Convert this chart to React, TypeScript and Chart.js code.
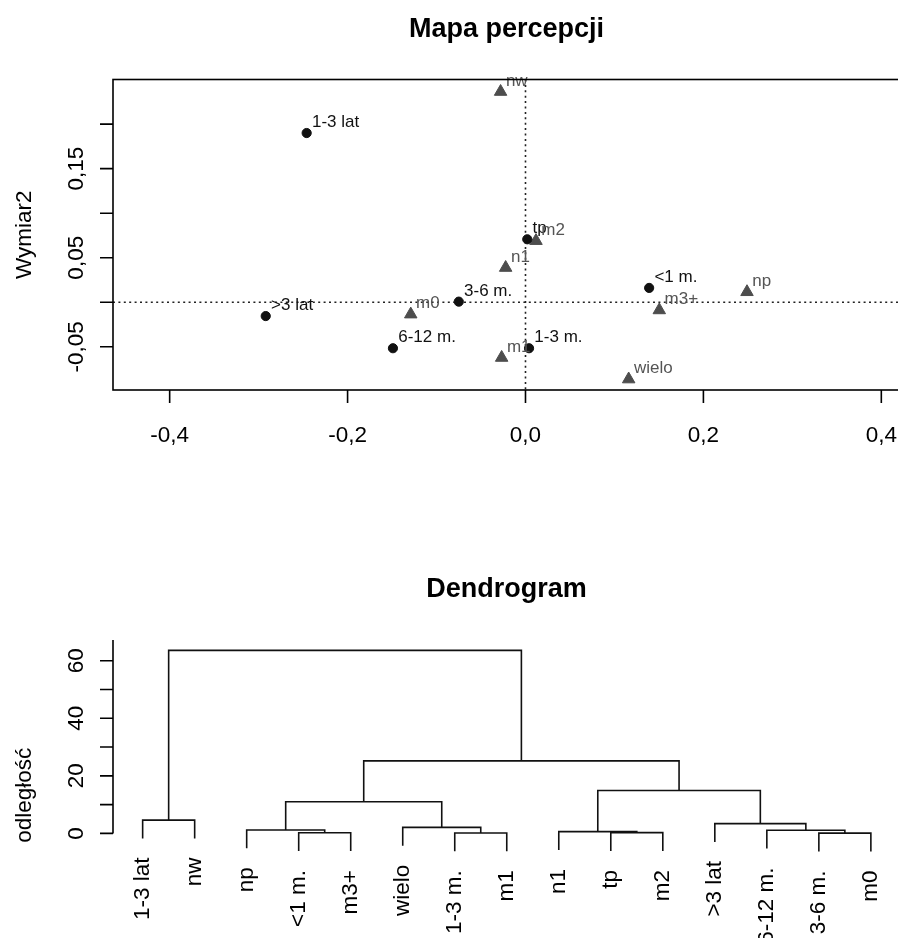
import React, { useEffect, useRef } from 'react';
import { Chart, registerables } from 'chart.js';
Chart.register(...registerables);

// ---------- Mapa percepcji (correspondence map) ----------
const rowLabels = ['1-3 lat', '>3 lat', '6-12 m.', '3-6 m.', 'tp', '1-3 m.', '<1 m.'];
const rowX = [-0.246, -0.292, -0.149, -0.075, 0.002, 0.004, 0.139];
const rowY = [0.190, -0.0155, -0.0516, 0.0007, 0.0707, -0.0516, 0.0161];

const colLabels = ['nw', 'n1', 'm2', 'm0', 'm1', 'm3+', 'np', 'wielo'];
const colX = [-0.028, -0.0223, 0.0118, -0.129, -0.0268, 0.1504, 0.249, 0.116];
const colY = [0.2364, 0.0388, 0.0690, -0.0135, -0.0622, -0.0088, 0.0116, -0.0864];

const xTicks = [-0.4, -0.2, 0, 0.2, 0.4];
const xTickLabels = ['-0,4', '-0,2', '0,0', '0,2', '0,4'];
const yTicks = [-0.05, 0, 0.05, 0.1, 0.15, 0.2];
const yTickLabels = ['-0,05', '', '0,05', '', '0,15', ''];

// ---------- Dendrogram ----------
const leafLabels = ['1-3 lat', 'nw', 'np', '<1 m.', 'm3+', 'wielo', '1-3 m.', 'm1', 'n1', 'tp', 'm2', '>3 lat', '6-12 m.', '3-6 m.', 'm0'];
// hclust-style merges: negative = leaf (1-based position), positive = earlier merge row
const mergeA = [-14, -4, -7, -10, -9, -13, -3, -6, -12, -1, 7, 5, 11, 10];
const mergeB = [-15, -5, -8, -11, 4, 1, 2, 3, 6, -2, 8, 9, 12, 13];
const mergeH = [0.1, 0.2, 0.15, 0.25, 0.6, 1.1, 1.2, 2.1, 3.4, 4.6, 11.0, 14.9, 25.2, 63.6];
const dTicks = [0, 10, 20, 30, 40, 50, 60];
const dTickLabels = ['0', '', '20', '', '40', '', '60'];

const FAM = '"Liberation Sans", Arial, Helvetica, sans-serif';
const font = (s: number, bold = false) => `${bold ? 'bold ' : ''}${s}px ${FAM}`;
const BASE = 22.5;

function ScatterChart() {
  const ref = useRef<HTMLCanvasElement>(null);
  useEffect(() => {
    const canvas = ref.current!;
    const plugin = {
      id: 'rdecorScatter',
      beforeDatasetsDraw(chart: any) {
        const { ctx, chartArea: a, scales } = chart;
        const x0 = scales.x.getPixelForValue(0);
        const y0 = scales.y.getPixelForValue(0);
        ctx.save();
        ctx.strokeStyle = '#222';
        ctx.lineWidth = 1.6;
        ctx.setLineDash([2, 3.4]);
        ctx.beginPath();
        ctx.moveTo(x0, a.top); ctx.lineTo(x0, a.bottom);
        ctx.moveTo(a.left, y0); ctx.lineTo(a.right, y0);
        ctx.stroke();
        ctx.restore();
      },
      afterDatasetsDraw(chart: any) {
        const { ctx } = chart;
        ctx.save();
        ctx.font = font(17);
        ctx.textAlign = 'left';
        ctx.textBaseline = 'alphabetic';
        const sets = [
          { labels: rowLabels, color: '#111111' },
          { labels: colLabels, color: '#555555' },
        ];
        sets.forEach((s, di) => {
          const meta = chart.getDatasetMeta(di);
          meta.data.forEach((el: any, i: number) => {
            ctx.fillStyle = s.color;
            ctx.fillText(s.labels[i], el.x + 5.3, el.y - 6);
          });
        });
        ctx.restore();
      },
      afterDraw(chart: any) {
        const { ctx, chartArea: a, scales } = chart;
        ctx.save();
        ctx.strokeStyle = '#000';
        ctx.lineWidth = 1.6;
        ctx.strokeRect(a.left, a.top, a.right - a.left, a.bottom - a.top);
        // x ticks
        ctx.beginPath();
        xTicks.forEach((v) => {
          const px = scales.x.getPixelForValue(v);
          ctx.moveTo(px, a.bottom); ctx.lineTo(px, a.bottom + 13);
        });
        yTicks.forEach((v) => {
          const py = scales.y.getPixelForValue(v);
          ctx.moveTo(a.left, py); ctx.lineTo(a.left - 13, py);
        });
        ctx.stroke();
        ctx.fillStyle = '#000';
        ctx.font = font(BASE);
        ctx.textAlign = 'center';
        ctx.textBaseline = 'alphabetic';
        xTicks.forEach((v, i) => {
          ctx.fillText(xTickLabels[i], scales.x.getPixelForValue(v), 442);
        });
        ctx.fillText('Wymiar 1', (a.left + a.right) / 2, 494);
        yTicks.forEach((v, i) => {
          if (!yTickLabels[i]) return;
          ctx.save();
          ctx.translate(83, scales.y.getPixelForValue(v));
          ctx.rotate(-Math.PI / 2);
          ctx.fillText(yTickLabels[i], 0, 0);
          ctx.restore();
        });
        ctx.save();
        ctx.translate(30.5, (a.top + a.bottom) / 2);
        ctx.rotate(-Math.PI / 2);
        ctx.fillText('Wymiar2', 0, 0);
        ctx.restore();
        ctx.font = font(27, true);
        ctx.fillText('Mapa percepcji', (a.left + a.right) / 2, 36.7);
        ctx.restore();
      },
    };
    const chart = new Chart(canvas, {
      type: 'scatter',
      data: {
        datasets: [
          {
            data: rowX.map((v, i) => ({ x: v, y: rowY[i] })),
            pointStyle: 'circle',
            pointRadius: 4.6,
            pointBackgroundColor: '#111111',
            pointBorderColor: '#111111',
            pointBorderWidth: 1,
            clip: false as any,
          },
          {
            data: colX.map((v, i) => ({ x: v, y: colY[i] })),
            pointStyle: 'triangle',
            pointRadius: 7.2,
            pointBackgroundColor: '#4d4d4d',
            pointBorderColor: '#4d4d4d',
            pointBorderWidth: 1,
            clip: false as any,
          },
        ],
      },
      options: {
        responsive: false,
        maintainAspectRatio: false,
        animation: false,
        devicePixelRatio: 1,
        layout: { padding: { left: 113, top: 79.5, right: 20, bottom: 79 } },
        scales: {
          x: { type: 'linear', display: false, min: -0.4637, max: 0.421 },
          y: { type: 'linear', display: false, min: -0.0985, max: 0.2501 },
        },
        plugins: { legend: { display: false }, tooltip: { enabled: false }, title: { display: false } },
        events: [],
      },
      plugins: [plugin],
    });
    return () => chart.destroy();
  }, []);
  return (
    <canvas
      ref={ref}
      width={920}
      height={469}
      style={{ position: 'absolute', left: 0, top: 0, width: 920, height: 469, display: 'block' }}
    />
  );
}

function DendroChart() {
  const ref = useRef<HTMLCanvasElement>(null);
  useEffect(() => {
    const canvas = ref.current!;
    const hang = 0.1 * Math.max(...mergeH);
    const nodeX: number[] = [];
    const xOf = (id: number) => (id < 0 ? -id : nodeX[id - 1]);
    const leafBottom: number[] = new Array(leafLabels.length).fill(0);
    const datasets: any[] = [];
    mergeH.forEach((h, i) => {
      const a = mergeA[i];
      const b = mergeB[i];
      const xa = xOf(a);
      const xb = xOf(b);
      const ya = a < 0 ? h - hang : mergeH[a - 1];
      const yb = b < 0 ? h - hang : mergeH[b - 1];
      if (a < 0) leafBottom[-a - 1] = ya;
      if (b < 0) leafBottom[-b - 1] = yb;
      nodeX.push((xa + xb) / 2);
      datasets.push({
        data: [
          { x: xa, y: ya },
          { x: xa, y: h },
          { x: xb, y: h },
          { x: xb, y: yb },
        ],
        showLine: true,
        borderColor: '#111',
        borderWidth: 1.6,
        pointRadius: 0,
        tension: 0,
        fill: false,
        clip: false,
      });
    });
    const plugin = {
      id: 'rdecorDendro',
      afterDraw(chart: any) {
        const { ctx, chartArea: a, scales } = chart;
        ctx.save();
        ctx.strokeStyle = '#000';
        ctx.lineWidth = 1.6;
        ctx.beginPath();
        ctx.moveTo(a.left, scales.y.getPixelForValue(0));
        ctx.lineTo(a.left, a.top);
        dTicks.forEach((v) => {
          const py = scales.y.getPixelForValue(v);
          ctx.moveTo(a.left, py); ctx.lineTo(a.left - 13, py);
        });
        ctx.stroke();
        ctx.fillStyle = '#000';
        ctx.font = font(BASE);
        ctx.textAlign = 'center';
        ctx.textBaseline = 'alphabetic';
        dTicks.forEach((v, i) => {
          if (!dTickLabels[i]) return;
          ctx.save();
          ctx.translate(83, scales.y.getPixelForValue(v));
          ctx.rotate(-Math.PI / 2);
          ctx.fillText(dTickLabels[i], 0, 0);
          ctx.restore();
        });
        ctx.save();
        ctx.translate(30.5, (a.top + a.bottom) / 2);
        ctx.rotate(-Math.PI / 2);
        ctx.fillText('odległość', 0, 0);
        ctx.restore();
        // leaf labels
        ctx.textAlign = 'right';
        ctx.textBaseline = 'middle';
        leafLabels.forEach((lab, i) => {
          const px = scales.x.getPixelForValue(i + 1);
          const py = scales.y.getPixelForValue(leafBottom[i]);
          ctx.save();
          ctx.translate(px, py + 19);
          ctx.rotate(-Math.PI / 2);
          ctx.fillText(lab, 0, 0);
          ctx.restore();
        });
        ctx.textAlign = 'center';
        ctx.textBaseline = 'alphabetic';
        ctx.font = font(27, true);
        ctx.fillText('Dendrogram', (a.left + a.right) / 2, 127.7);
        ctx.restore();
      },
    };
    const chart = new Chart(canvas, {
      type: 'scatter',
      data: { datasets },
      options: {
        responsive: false,
        maintainAspectRatio: false,
        animation: false,
        devicePixelRatio: 1,
        layout: { padding: { left: 113, top: 171, right: 20, bottom: 18.5 } },
        scales: {
          x: { type: 'linear', display: false, min: 0.43, max: 15.56 },
          y: { type: 'linear', display: false, min: -40.7, max: 67.2 },
        },
        plugins: { legend: { display: false }, tooltip: { enabled: false }, title: { display: false } },
        events: [],
      },
      plugins: [plugin],
    });
    return () => chart.destroy();
  }, []);
  return (
    <canvas
      ref={ref}
      width={920}
      height={500}
      style={{ position: 'absolute', left: 0, top: 469, width: 920, height: 500, display: 'block' }}
    />
  );
}

export default function App() {
  return (
    <div
      style={{
        position: 'absolute',
        left: 0,
        top: 0,
        width: 898,
        height: 938,
        overflow: 'hidden',
        background: '#fff',
      }}
    >
      <ScatterChart />
      <DendroChart />
    </div>
  );
}
